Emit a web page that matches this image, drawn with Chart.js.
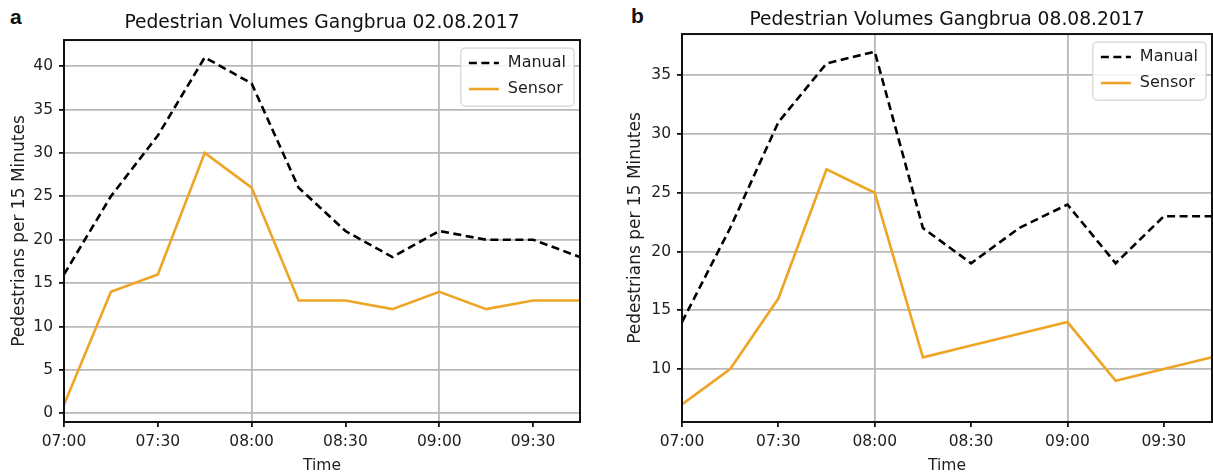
<!DOCTYPE html>
<html>
<head>
<meta charset="utf-8">
<script src="https://cdn.jsdelivr.net/npm/chart.js@4.4.0/dist/chart.umd.min.js"></script>
<style>
  body { margin: 0; background: #fff; width: 1213px; height: 475px; position: relative; overflow: hidden; }
  canvas { position: absolute; top: 0; }
  .panel-tag { position: absolute; font: bold 21px 'Liberation Sans', sans-serif; color: #111; }
</style>
</head>
<body>
<div class="panel-tag" style="left:10px; top:5px">a</div>
<div class="panel-tag" style="left:631px; top:4px">b</div>
<canvas id="chart-a" width="600" height="475" style="left:0"></canvas>
<canvas id="chart-b" width="598" height="475" style="left:620px"></canvas>
<script>
// 15 minute bins
const times = ['07:00', '07:15', '07:30', '07:45', '08:00', '08:15', '08:30', '08:45', '09:00', '09:15', '09:30', '09:45'];
const tickTimes = ['07:00', '07:30', '08:00', '08:30', '09:00', '09:30'];
const gridTimes = ['08:00', '09:00'];

// 02.08.2017
const manualA = [16, 25, 32, 41, 38, 26, 21, 18, 21, 20, 20, 18];
const sensorA = [1, 14, 16, 30, 26, 13, 13, 12, 14, 12, 13, 13];
const yTicksA = [0, 5, 10, 15, 20, 25, 30, 35, 40];

// 08.08.2017
const manualB = [14, 22, 31, 36, 37, 22, 19, 22, 24, 19, 23, 23];
const sensorB = [7, 10, 16, 27, 25, 11, 12, 13, 14, 9, 10, 11];
const yTicksB = [10, 15, 20, 25, 30, 35];

const titleA = 'Pedestrian Volumes Gangbrua 02.08.2017';
const titleB = 'Pedestrian Volumes Gangbrua 08.08.2017';

const FONT = "'DejaVu Sans', sans-serif";
const GRID = '#b8b8b8';
const SENSOR_COLOR = '#eea526';

Chart.defaults.font.family = FONT;
Chart.defaults.color = '#1e1e1e';

// frame + matplotlib style legend inside the plot
const framePlugin = {
  id: 'frameAndLegend',
  afterDraw(chart) {
    const { ctx, chartArea } = chart;
    ctx.save();
    ctx.strokeStyle = '#111';
    ctx.lineWidth = 2;
    ctx.strokeRect(chartArea.left, chartArea.top, chartArea.right - chartArea.left, chartArea.bottom - chartArea.top);

    const sets = chart.data.datasets;
    ctx.font = '16px ' + FONT;
    const textW = Math.max(...sets.map(d => ctx.measureText(d.label).width));
    const w = 8 + 30 + 9 + textW + 8;
    const h = 58;
    const x = chartArea.right - 6 - w;
    const y = chartArea.top + 8;
    ctx.beginPath();
    ctx.roundRect(x, y, w, h, 4);
    ctx.fillStyle = 'rgba(255,255,255,0.85)';
    ctx.fill();
    ctx.strokeStyle = '#d4d4d4';
    ctx.lineWidth = 1.2;
    ctx.stroke();

    sets.forEach((d, i) => {
      const ry = y + 15 + i * 26;
      ctx.beginPath();
      ctx.setLineDash(d.borderDash || []);
      ctx.strokeStyle = d.borderColor;
      ctx.lineWidth = d.borderWidth;
      ctx.moveTo(x + 8, ry);
      ctx.lineTo(x + 38, ry);
      ctx.stroke();
      ctx.setLineDash([]);
      ctx.fillStyle = '#1e1e1e';
      ctx.textBaseline = 'middle';
      ctx.fillText(d.label, x + 47, ry);
    });
    ctx.restore();
  }
};

function makePanel(id, manual, sensor, yMin, yMax, yTicks, title, box) {
  new Chart(document.getElementById(id), {
    type: 'line',
    data: {
      labels: times,
      datasets: [
        { label: 'Manual', data: manual, borderColor: '#000', borderWidth: 2.6, borderDash: [8, 4.5], pointRadius: 0, tension: 0 },
        { label: 'Sensor', data: sensor, borderColor: SENSOR_COLOR, borderWidth: 2.6, pointRadius: 0, tension: 0 }
      ]
    },
    options: {
      responsive: false,
      animation: false,
      devicePixelRatio: 1,
      layout: { padding: { left: 0, right: box.right, top: 0, bottom: 0 } },
      plugins: {
        legend: { display: false },
        tooltip: { enabled: false },
        title: {
          display: true,
          text: title,
          fullSize: false,
          color: '#111',
          font: { size: 18.7, weight: 'normal' },
          padding: { top: box.titleTop, bottom: box.titleBottom }
        }
      },
      scales: {
        x: {
          offset: false,
          afterFit: (scale) => { scale.height = 53; },
          border: { display: false },
          grid: {
            color: (ctx) => gridTimes.includes(times[ctx.index]) ? GRID : 'rgba(0,0,0,0)',
            lineWidth: 1.8,
            tickColor: (ctx) => tickTimes.includes(times[ctx.index]) ? '#111' : 'rgba(0,0,0,0)',
            tickLength: 5
          },
          ticks: {
            autoSkip: false,
            maxRotation: 0,
            padding: 6,
            font: { size: 15.5 },
            callback: function (value, index) {
              const t = times[index];
              return tickTimes.includes(t) ? t : '';
            }
          },
          title: { display: true, text: 'Time', font: { size: 15.5 }, padding: { top: 0, bottom: 0 } }
        },
        y: {
          min: yMin,
          max: yMax,
          afterFit: (scale) => { scale.width = box.yWidth; },
          afterBuildTicks: (scale) => { scale.ticks = yTicks.map(v => ({ value: v })); },
          border: { display: false },
          grid: { color: GRID, lineWidth: 1.8, tickColor: '#111', tickLength: 5 },
          ticks: { padding: 6, font: { size: 15.5 } },
          title: { display: true, text: 'Pedestrians per 15 Minutes', font: { size: 17 }, padding: { top: box.yTitle, bottom: 0 } }
        }
      }
    },
    plugins: [framePlugin]
  });
}

makePanel('chart-a', manualA, sensorA, -1, 43, yTicksA, titleA,
  { right: 20, yWidth: 64, titleTop: 11.5, titleBottom: 6.1, yTitle: 9 });
makePanel('chart-b', manualB, sensorB, 5.5, 38.5, yTicksB, titleB,
  { right: 0, yWidth: 62, titleTop: 9, titleBottom: 2.6, yTitle: 5 });
</script>
</body>
</html>
